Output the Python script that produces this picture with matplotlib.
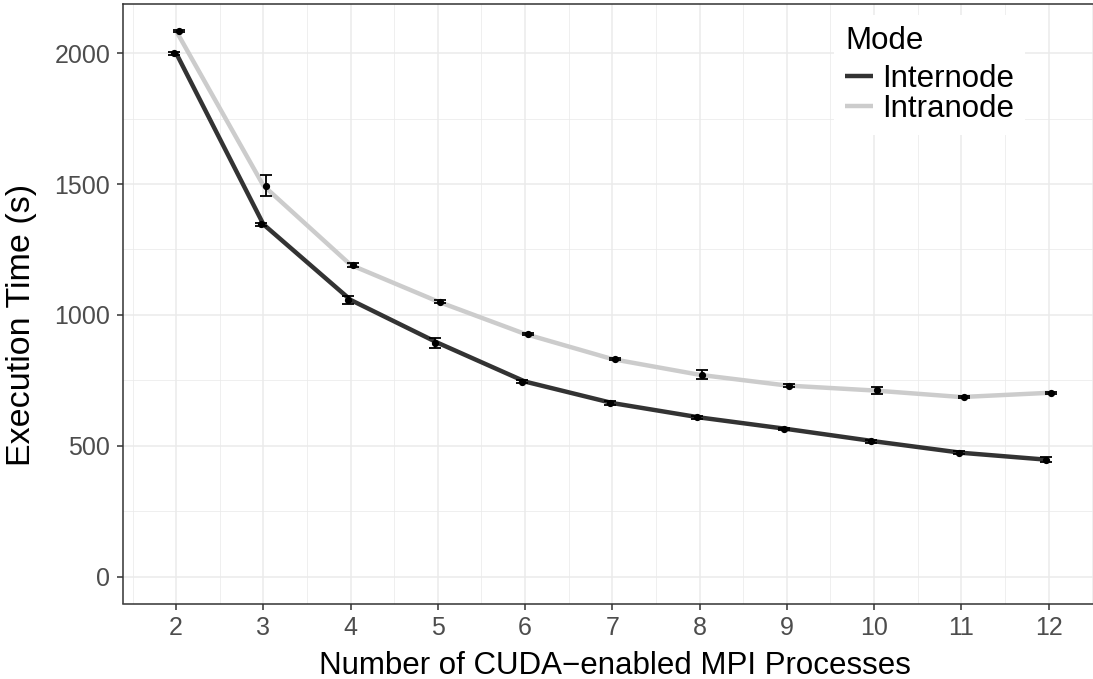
import numpy as np
import matplotlib
matplotlib.use("Agg")
import matplotlib.pyplot as plt

plt.rcParams['font.family'] = ['Liberation Sans', 'DejaVu Sans']

# Data
procs = [2, 3, 4, 5, 6, 7, 8, 9, 10, 11, 12]
internode = [2000, 1346, 1057, 893, 745, 663, 608, 564, 517, 473, 446]
internode_err = [5, 5, 14, 20, 6, 6, 5, 5, 6, 5, 9]
intranode = [2085, 1494, 1191, 1051, 927, 831, 771, 730, 711, 686, 702]
intranode_err = [5, 40, 9, 6, 5, 5, 17, 5, 13, 5, 5]

modes = ["Internode", "Intranode"]
colors = ["#333333", "#cccccc"]
dodge = [-0.03, 0.03]

W, H = 1093, 679
fig = plt.figure(figsize=(W / 100, H / 100), dpi=100)
left, right, top, bottom = 122.7, 1102, 4, 603.5
ax = fig.add_axes([left / W, 1 - bottom / H, (right - left) / W, (bottom - top) / H])

x = np.array(procs)
series = [(internode, internode_err), (intranode, intranode_err)]

for (vals, errs), name, col in zip(series, modes, colors):
    ax.plot(x, vals, color=col, lw=3.2, label=name, zorder=3, solid_capstyle="butt")
for (vals, errs), dx in zip(series, dodge):
    ax.errorbar(x + dx, vals, yerr=errs, fmt="o", color="black", ms=4.2,
                elinewidth=1.3, capsize=4.5, capthick=1.3, zorder=4)

ax.set_xlim(1.387, 12.613)
ax.set_ylim(-103, 2188)
ax.set_xticks(procs)
ax.set_xticks(np.arange(1.5, 13, 1.0), minor=True)
ax.set_yticks([0, 500, 1000, 1500, 2000])
ax.set_yticks([250, 750, 1250, 1750], minor=True)

ax.grid(which="major", color="#ebebeb", lw=1.1, zorder=0)
ax.grid(which="minor", color="#ebebeb", lw=0.55, zorder=0)
ax.set_axisbelow(True)

for s in ax.spines.values():
    s.set_color("#333333")
    s.set_linewidth(1.1)

ax.tick_params(which="major", length=4, width=1.1, color="#333333",
               labelsize=18, labelcolor="#4d4d4d", pad=5)
ax.tick_params(which="minor", length=0)

fig.text(22 / W, 1 - 325 / H, "Execution Time (s)", rotation=90,
         ha="center", va="center", fontsize=24.5, color="black")
fig.text(615 / W, 1 - 674 / H, "Number of CUDA\u2212enabled MPI Processes",
         ha="center", va="baseline", fontsize=22.5, color="black")

leg = fig.legend(loc="upper left", bbox_to_anchor=(834 / W, 1 - 15 / H),
                 title="Mode", fontsize=22.5, title_fontsize=22.5,
                 frameon=True, framealpha=1, facecolor="white", edgecolor="none",
                 handlelength=0.9, handletextpad=0.3, borderpad=0.35,
                 borderaxespad=0, labelspacing=0.0, alignment="left", fancybox=False)
leg._legend_box.sep = 5.8
for line in leg.get_lines():
    line.set_linewidth(3.2)

fig.savefig("out.png", dpi=100)
